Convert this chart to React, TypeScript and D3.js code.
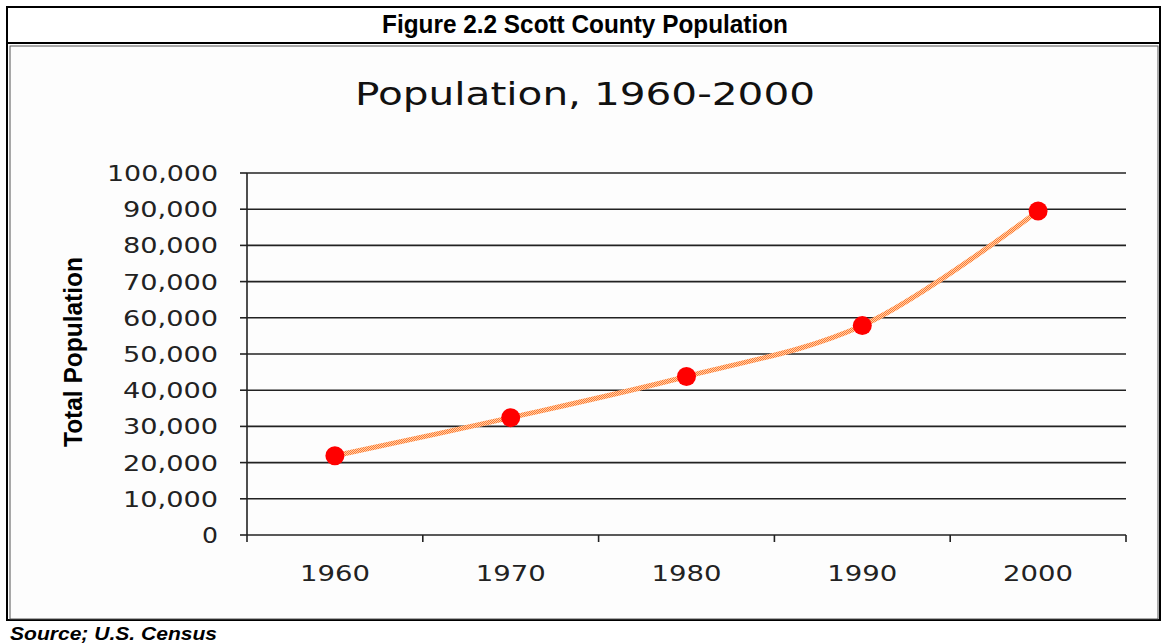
import * as d3 from "d3";

const years = ["1960", "1970", "1980", "1990", "2000"];
const population = [21909, 32423, 43784, 57846, 89498];
const yTicks = [0, 10000, 20000, 30000, 40000, 50000, 60000, 70000, 80000, 90000, 100000];

const W = 1162;
const H = 644;
const plot = { left: 247, right: 1126, top: 173, bottom: 535 };

// width of a tick label in the original's wide pixel font
const labelWidth = (s: string, digit: number) =>
  s.split("").reduce((w, c) => w + (c === "," ? 15 : digit), 0);

export default function App() {
  const x = d3.scaleBand().domain(years).range([plot.left, plot.right]);
  const y = d3.scaleLinear().domain([0, 100000]).range([plot.bottom, plot.top]);
  const fmt = d3.format(",");
  const cx = (i: number) => (x(years[i]) ?? 0) + x.bandwidth() / 2;
  const line = d3
    .line<number>()
    .x((_, i) => cx(i))
    .y((d) => y(d))
    .curve(d3.curveCatmullRom.alpha(0.5));

  const narrow = "'Liberation Sans Narrow', 'Arial Narrow', 'Liberation Sans', sans-serif";
  const chartFont = "'DejaVu Sans', Verdana, sans-serif";

  return (
    <svg width={W} height={H} style={{ position: "absolute", left: 0, top: 0, background: "#fff" }}>
      <defs>
        <pattern id="dither" width={2} height={2} patternUnits="userSpaceOnUse">
          <rect width={2} height={2} fill="#ffcfa8" />
          <rect width={1} height={1} fill="#ff7a30" />
          <rect x={1} y={1} width={1} height={1} fill="#ff7a30" />
        </pattern>
      </defs>

      {/* frames */}
      <rect x={7} y={7} width={1153} height={613} fill="none" stroke="#000" strokeWidth={2} />
      <line x1={7} x2={1160} y1={43} y2={43} stroke="#000" strokeWidth={2} />
      <rect x={10} y={46} width={1148} height={573} fill="#fdfdfd" stroke="#555" strokeWidth={1} />
      <text
        x={585}
        y={33}
        textAnchor="middle"
        fontFamily={narrow}
        fontWeight="bold"
        fontSize={26}
        textLength={406}
        lengthAdjust="spacingAndGlyphs"
        fill="#000"
      >
        Figure 2.2 Scott County Population
      </text>

      <text
        x={585}
        y={105}
        textAnchor="middle"
        fontFamily={chartFont}
        fontSize={32}
        textLength={460}
        lengthAdjust="spacingAndGlyphs"
        fill="#111"
      >
        Population, 1960-2000
      </text>

      {/* gridlines + y ticks */}
      {yTicks.map((t) => {
        const label = fmt(t);
        return (
          <g key={t}>
            {t > 0 && (
              <line x1={plot.left} x2={plot.right} y1={y(t)} y2={y(t)} stroke="#222" strokeWidth={1.6} />
            )}
            <line x1={plot.left - 7} x2={plot.left} y1={y(t)} y2={y(t)} stroke="#222" strokeWidth={1.6} />
            <text
              x={218}
              y={y(t) + 8}
              textAnchor="end"
              fontFamily={chartFont}
              fontSize={21}
              textLength={labelWidth(label, 16)}
              lengthAdjust="spacingAndGlyphs"
              fill="#222"
            >
              {label}
            </text>
          </g>
        );
      })}

      {/* axes */}
      <line x1={plot.left} x2={plot.left} y1={plot.top} y2={plot.bottom + 7} stroke="#222" strokeWidth={1.6} />
      <line x1={plot.left} x2={plot.right} y1={plot.bottom} y2={plot.bottom} stroke="#222" strokeWidth={1.6} />
      {years.map((yr) => {
        const xx = (x(yr) ?? 0) + x.bandwidth();
        return <line key={yr} x1={xx} x2={xx} y1={plot.bottom} y2={plot.bottom + 7} stroke="#222" strokeWidth={1.6} />;
      })}
      {years.map((yr, i) => (
        <text
          key={yr}
          x={cx(i)}
          y={581}
          textAnchor="middle"
          fontFamily={chartFont}
          fontSize={21}
          textLength={labelWidth(yr, 17.5)}
          lengthAdjust="spacingAndGlyphs"
          fill="#222"
        >
          {yr}
        </text>
      ))}

      <text
        transform={`translate(82,352) rotate(-90)`}
        textAnchor="middle"
        fontFamily={narrow}
        fontWeight="bold"
        fontSize={25}
        textLength={190}
        lengthAdjust="spacingAndGlyphs"
        fill="#000"
      >
        Total Population
      </text>

      {/* series */}
      <path d={line(population) ?? ""} fill="none" stroke="url(#dither)" strokeWidth={5} />
      {population.map((v, i) => (
        <circle key={i} cx={cx(i)} cy={y(v)} r={9.5} fill="#ff0000" />
      ))}

      <text
        x={10}
        y={640}
        fontFamily="'Liberation Sans', Arial, sans-serif"
        fontWeight="bold"
        fontStyle="italic"
        fontSize={18}
        textLength={207}
        lengthAdjust="spacingAndGlyphs"
        fill="#000"
      >
        Source; U.S. Census
      </text>
    </svg>
  );
}
